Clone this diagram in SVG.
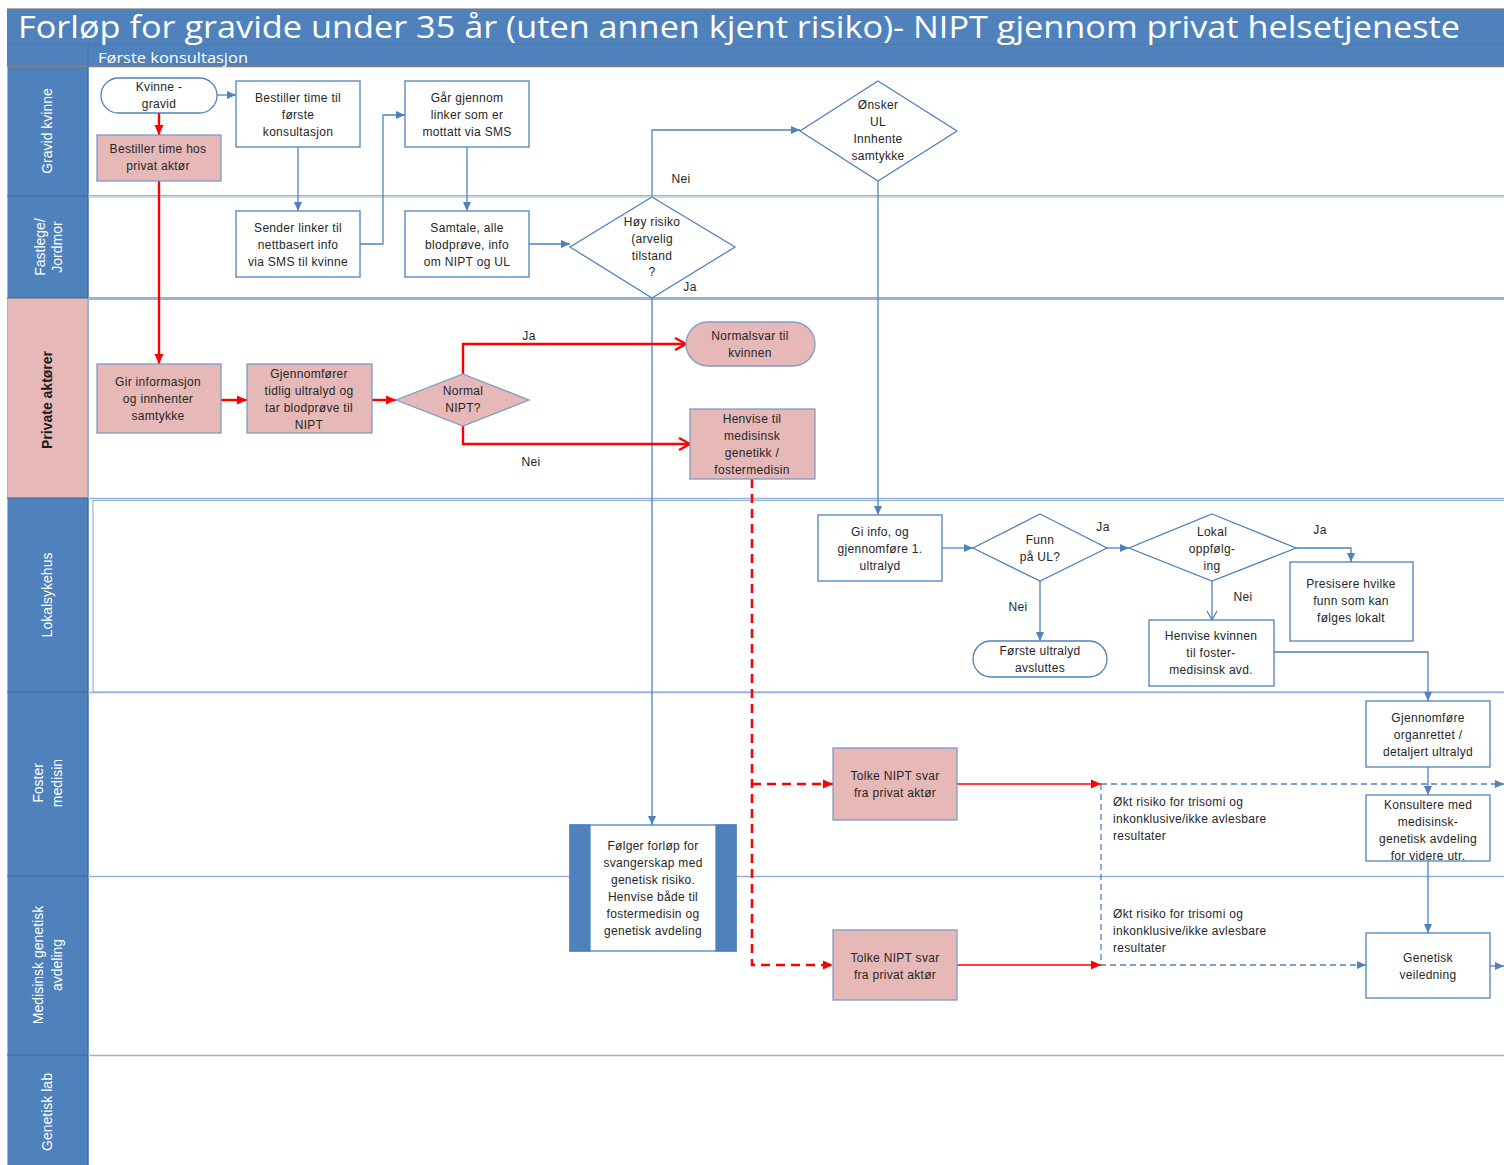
<svg xmlns="http://www.w3.org/2000/svg" width="1504" height="1165" viewBox="0 0 1504 1165">
<defs>
<style>
.t{font-family:"Liberation Sans",Arial,sans-serif;font-size:12px;fill:#262626;text-anchor:middle;letter-spacing:0.3px}
.tl{font-family:"Liberation Sans",Arial,sans-serif;font-size:12px;fill:#262626;letter-spacing:0.3px}
.lane{font-family:"Liberation Sans",Arial,sans-serif;font-size:14px;fill:#ffffff;text-anchor:middle}
.box{fill:#ffffff;stroke:#4f81bd;stroke-width:1.3}
.pink{fill:#e6b8b7;stroke:#7f9cc6;stroke-width:1.3}
.cb{fill:none;stroke:#4f81bd;stroke-width:1.3}
.cbd{fill:none;stroke:#4f81bd;stroke-width:1.3;stroke-dasharray:6 4}
.cr{fill:none;stroke:#ff0000;stroke-width:2.4}
.crt{fill:none;stroke:#ff0000;stroke-width:1.3}
.crd{fill:none;stroke:#ff0000;stroke-width:2.6;stroke-dasharray:9 6}
.ln{stroke:#95b3d7;fill:none}
</style>
<marker id="ab" markerWidth="10" markerHeight="10" refX="9" refY="5" orient="auto" markerUnits="userSpaceOnUse"><path d="M0,1 L9,5 L0,9 z" fill="#4f81bd"/></marker>
<marker id="abo" markerWidth="12" markerHeight="12" refX="10" refY="6" orient="auto" markerUnits="userSpaceOnUse"><path d="M1,1 L10,6 L1,11" fill="none" stroke="#4f81bd" stroke-width="1.3"/></marker>
<marker id="ar" markerWidth="12" markerHeight="12" refX="10" refY="6" orient="auto" markerUnits="userSpaceOnUse"><path d="M0,1.5 L10,6 L0,10.5 z" fill="#ff0000"/></marker>
<marker id="aro" markerWidth="14" markerHeight="14" refX="12" refY="7" orient="auto" markerUnits="userSpaceOnUse"><path d="M1,1 L12,7 L1,13" fill="none" stroke="#ff0000" stroke-width="2.4"/></marker>
</defs>
<rect x="0" y="0" width="1504" height="1165" fill="#ffffff"/>

<g id="frame">
<rect x="7" y="9" width="1497" height="57" fill="#4f81bd"/>
<line x1="7" y1="8.5" x2="1504" y2="8.5" stroke="#b0b0b0" stroke-width="1"/>
<line x1="7" y1="44.5" x2="1504" y2="44.5" stroke="#4a79b0" stroke-width="1"/>
<line x1="7" y1="66.5" x2="1504" y2="66.5" stroke="#808080" stroke-width="1.5"/>
<line x1="88" y1="45" x2="88" y2="66" stroke="#3f6ea8" stroke-width="1"/>
<text x="18" y="38" font-family="'Open Sans','Liberation Sans',sans-serif" font-size="31" fill="#ffffff" textLength="1442" lengthAdjust="spacingAndGlyphs">Forløp for gravide under 35 år (uten annen kjent risiko)- NIPT gjennom privat helsetjeneste</text>
<text x="98" y="62.5" font-family="'Open Sans','Liberation Sans',sans-serif" font-size="14" fill="#ffffff" textLength="150" lengthAdjust="spacingAndGlyphs">Første konsultasjon</text>
</g>

<g id="lanes">
<rect x="7" y="67" width="81" height="231" fill="#4f81bd"/>
<rect x="7" y="298" width="81" height="200" fill="#e6b8b7"/>
<rect x="7" y="498" width="81" height="667" fill="#4f81bd"/>
<line x1="7.5" y1="67" x2="7.5" y2="1165" stroke="#9fb6d4" stroke-width="1"/>
<line x1="88" y1="67" x2="88" y2="1165" stroke="#3f6ea8" stroke-width="1.5"/>
<line x1="88" y1="298" x2="88" y2="498" stroke="#95b3d7" stroke-width="2"/>
<g stroke="#3a6599" stroke-width="1.2">
<line x1="7" y1="196" x2="88" y2="196"/>
<line x1="7" y1="298" x2="88" y2="298"/>
<line x1="7" y1="498" x2="88" y2="498"/>
<line x1="7" y1="692" x2="88" y2="692"/>
<line x1="7" y1="876" x2="88" y2="876"/>
<line x1="7" y1="1055" x2="88" y2="1055"/>
</g>
<line class="ln" x1="88" y1="195.5" x2="1504" y2="195.5" stroke-width="1"/>
<line class="ln" x1="88" y1="197" x2="1504" y2="197" stroke="#c6d6ea" stroke-width="1.2"/>
<line class="ln" x1="88" y1="298.5" x2="1504" y2="298.5" stroke-width="3"/>
<line class="ln" x1="88" y1="498.5" x2="1504" y2="498.5" stroke-width="1.5"/>
<rect x="93" y="500.5" width="1420" height="191.5" fill="none" stroke="#95b3d7" stroke-width="1.2"/>
<line class="ln" x1="88" y1="692.5" x2="1504" y2="692.5" stroke-width="1.5"/>
<line class="ln" x1="88" y1="876.5" x2="1504" y2="876.5" stroke-width="1.5"/>
<line class="ln" x1="88" y1="1055.5" x2="1504" y2="1055.5" stroke-width="1.5"/>
<text class="lane" transform="translate(52,131) rotate(-90)">Gravid  kvinne</text>
<text class="lane" transform="translate(45,247) rotate(-90)">Fastlege/</text>
<text class="lane" transform="translate(62,247) rotate(-90)">Jordmor</text>
<text transform="translate(52,400) rotate(-90)" font-family="'Liberation Sans',Arial,sans-serif" font-size="14" font-weight="bold" fill="#1a1a1a" text-anchor="middle">Private aktører</text>
<text class="lane" transform="translate(52,595) rotate(-90)">Lokalsykehus</text>
<text class="lane" transform="translate(43,783) rotate(-90)">Foster</text>
<text class="lane" transform="translate(62,783) rotate(-90)">medisin</text>
<text class="lane" transform="translate(43,965) rotate(-90)">Medisinsk genetisk</text>
<text class="lane" transform="translate(62,965) rotate(-90)">avdeling</text>
<text class="lane" transform="translate(52,1112) rotate(-90)">Genetisk lab</text>
</g>

<g id="connectors">
<path class="cb" d="M217,95 H236" marker-end="url(#ab)"/>
<path class="cb" d="M298,147 V211" marker-end="url(#ab)"/>
<path class="cb" d="M360,244 H383 V115 H405" marker-end="url(#ab)"/>
<path class="cb" d="M467,147 V211" marker-end="url(#ab)"/>
<path class="cb" d="M529,244 H570" marker-end="url(#ab)"/>
<path class="cb" d="M652,196 V130 H800" marker-end="url(#ab)"/>
<path class="cb" d="M652,298 V825" marker-end="url(#ab)"/>
<path class="cb" d="M878,181 V515" marker-end="url(#ab)"/>
<path class="cb" d="M942,548 H973" marker-end="url(#ab)"/>
<path class="cb" d="M1107,548 H1129" marker-end="url(#ab)"/>
<path class="cb" d="M1040,581 V641" marker-end="url(#ab)"/>
<path class="cb" d="M1296,548 H1351 V562" marker-end="url(#ab)"/>
<path class="cb" d="M1212,581 V620" marker-end="url(#abo)"/>
<path class="cb" d="M1274,652 H1428 V701" marker-end="url(#ab)"/>
<path class="cb" d="M1428,767 V795" marker-end="url(#ab)"/>
<path class="cb" d="M1428,861 V933" marker-end="url(#ab)"/>
<path class="cb" d="M1490,966 H1504" marker-end="url(#ab)"/>
<path class="cbd" d="M1101,784 H1504" marker-end="url(#ab)"/>
<path class="cbd" d="M1101,784 V965 H1366" marker-end="url(#ab)"/>
<path class="cr" d="M159,113 V135" marker-end="url(#ar)"/>
<path class="cr" d="M159,181 V364" marker-end="url(#ar)"/>
<path class="cr" d="M221,400 H247" marker-end="url(#ar)"/>
<path class="cr" d="M372,400 H396" marker-end="url(#ar)"/>
<path class="cr" d="M463,374 V344 H686" marker-end="url(#aro)"/>
<path class="cr" d="M463,426 V444 H690" marker-end="url(#aro)"/>
<path class="crd" d="M752,479 V965 H833" marker-end="url(#ar)"/>
<path class="crd" d="M752,784 H833" marker-end="url(#ar)"/>
<path class="crt" d="M957,784 H1101" marker-end="url(#ar)"/>
<path class="crt" d="M957,965 H1101" marker-end="url(#ar)"/>
<g class="t">
<text x="681" y="183">Nei</text>
<text x="690" y="291">Ja</text>
<text x="529" y="340">Ja</text>
<text x="531" y="466">Nei</text>
<text x="1103" y="531">Ja</text>
<text x="1018" y="611">Nei</text>
<text x="1320" y="534">Ja</text>
<text x="1243" y="601">Nei</text>
</g>
<text class="tl" x="1113" y="806">Økt risiko for trisomi og</text>
<text class="tl" x="1113" y="823">inkonklusive/ikke avlesbare</text>
<text class="tl" x="1113" y="840">resultater</text>
<text class="tl" x="1113" y="918">Økt risiko for trisomi og</text>
<text class="tl" x="1113" y="935">inkonklusive/ikke avlesbare</text>
<text class="tl" x="1113" y="952">resultater</text>
</g>

<g id="n-kvinne"><rect class="box" x="101" y="78" width="116" height="35" rx="17.5"/><text class="t" x="159" y="91">Kvinne -</text><text class="t" x="159" y="108">gravid</text></g>
<g id="n-bestiller-privat"><rect class="pink" x="97" y="135" width="124" height="46"/><text class="t" x="158" y="153">Bestiller time hos</text><text class="t" x="158" y="170">privat aktør</text></g>
<g id="n-bestiller-forste"><rect class="box" x="236" y="81" width="124" height="66"/><text class="t" x="298" y="102">Bestiller time til</text><text class="t" x="298" y="119">første</text><text class="t" x="298" y="136">konsultasjon</text></g>
<g id="n-gar-gjennom"><rect class="box" x="405" y="81" width="124" height="66"/><text class="t" x="467" y="102">Går gjennom</text><text class="t" x="467" y="119">linker som er</text><text class="t" x="467" y="136">mottatt via SMS</text></g>
<g id="n-onsker-ul"><path class="box" d="M878,81 L957,131 L878,181 L800,131 z"/><text class="t" x="878" y="109">Ønsker</text><text class="t" x="878" y="126">UL</text><text class="t" x="878" y="143">Innhente</text><text class="t" x="878" y="160">samtykke</text></g>
<g id="n-sender"><rect class="box" x="236" y="211" width="124" height="66"/><text class="t" x="298" y="232">Sender linker til</text><text class="t" x="298" y="249">nettbasert info</text><text class="t" x="298" y="266">via SMS til kvinne</text></g>
<g id="n-samtale"><rect class="box" x="405" y="211" width="124" height="66"/><text class="t" x="467" y="232">Samtale, alle</text><text class="t" x="467" y="249">blodprøve, info</text><text class="t" x="467" y="266">om NIPT og UL</text></g>
<g id="n-hoy-risiko"><path class="box" d="M652,197 L735,247 L652,298 L570,247 z"/><text class="t" x="652" y="226">Høy risiko</text><text class="t" x="652" y="243">(arvelig</text><text class="t" x="652" y="260">tilstand</text><text class="t" x="652" y="276">?</text></g>
<g id="n-gir-info"><rect class="pink" x="97" y="364" width="124" height="69"/><text class="t" x="158" y="386">Gir informasjon</text><text class="t" x="158" y="403">og innhenter</text><text class="t" x="158" y="420">samtykke</text></g>
<g id="n-gjennomforer"><rect class="pink" x="247" y="364" width="125" height="69"/><text class="t" x="309" y="378">Gjennomfører</text><text class="t" x="309" y="395">tidlig ultralyd og</text><text class="t" x="309" y="412">tar blodprøve til</text><text class="t" x="309" y="429">NIPT</text></g>
<g id="n-normal-nipt"><path class="pink" d="M463,374 L529,400 L463,426 L396,400 z"/><text class="t" x="463" y="395">Normal</text><text class="t" x="463" y="412">NIPT?</text></g>
<g id="n-normalsvar"><rect class="pink" x="686" y="322" width="129" height="44" rx="22"/><text class="t" x="750" y="340">Normalsvar til</text><text class="t" x="750" y="357">kvinnen</text></g>
<g id="n-henvise-gen"><rect class="pink" x="690" y="409" width="125" height="70"/><text class="t" x="752" y="423">Henvise til</text><text class="t" x="752" y="440">medisinsk</text><text class="t" x="752" y="457">genetikk /</text><text class="t" x="752" y="474">fostermedisin</text></g>
<g id="n-gi-info-ul"><rect class="box" x="818" y="515" width="124" height="66"/><text class="t" x="880" y="536">Gi info, og</text><text class="t" x="880" y="553">gjennomføre 1.</text><text class="t" x="880" y="570">ultralyd</text></g>
<g id="n-funn"><path class="box" d="M1040,514 L1107,548 L1040,581 L973,548 z"/><text class="t" x="1040" y="544">Funn</text><text class="t" x="1040" y="561">på UL?</text></g>
<g id="n-lokal"><path class="box" d="M1212,514 L1296,548 L1212,581 L1129,548 z"/><text class="t" x="1212" y="536">Lokal</text><text class="t" x="1212" y="553">oppfølg-</text><text class="t" x="1212" y="570">ing</text></g>
<g id="n-presisere"><rect class="box" x="1290" y="562" width="123" height="79"/><text class="t" x="1351" y="588">Presisere hvilke</text><text class="t" x="1351" y="605">funn som kan</text><text class="t" x="1351" y="622">følges lokalt</text></g>
<g id="n-forste-avsluttes"><rect class="box" x="973" y="641" width="134" height="36" rx="18"/><text class="t" x="1040" y="655">Første ultralyd</text><text class="t" x="1040" y="672">avsluttes</text></g>
<g id="n-henvise-kvinnen"><rect class="box" x="1149" y="620" width="125" height="66"/><text class="t" x="1211" y="640">Henvise kvinnen</text><text class="t" x="1211" y="657">til foster-</text><text class="t" x="1211" y="674">medisinsk avd.</text></g>
<g id="n-organrettet"><rect class="box" x="1366" y="701" width="124" height="66"/><text class="t" x="1428" y="722">Gjennomføre</text><text class="t" x="1428" y="739">organrettet /</text><text class="t" x="1428" y="756">detaljert ultralyd</text></g>
<g id="n-konsultere"><rect class="box" x="1366" y="795" width="124" height="66"/><text class="t" x="1428" y="809">Konsultere med</text><text class="t" x="1428" y="826">medisinsk-</text><text class="t" x="1428" y="843">genetisk avdeling</text><text class="t" x="1428" y="860">for videre utr.</text></g>
<g id="n-folger"><rect class="box" x="570" y="825" width="166" height="126"/><rect x="570" y="825" width="20" height="126" fill="#4f81bd" stroke="#4f81bd" stroke-width="1.3"/><rect x="716" y="825" width="20" height="126" fill="#4f81bd" stroke="#4f81bd" stroke-width="1.3"/><text class="t" x="653" y="850">Følger forløp for</text><text class="t" x="653" y="867">svangerskap med</text><text class="t" x="653" y="884">genetisk risiko.</text><text class="t" x="653" y="901">Henvise både til</text><text class="t" x="653" y="918">fostermedisin og</text><text class="t" x="653" y="935">genetisk avdeling</text></g>
<g id="n-tolke-1"><rect class="pink" x="833" y="748" width="124" height="72"/><text class="t" x="895" y="780">Tolke NIPT svar</text><text class="t" x="895" y="797">fra privat aktør</text></g>
<g id="n-tolke-2"><rect class="pink" x="833" y="930" width="124" height="70"/><text class="t" x="895" y="962">Tolke NIPT svar</text><text class="t" x="895" y="979">fra privat aktør</text></g>
<g id="n-genetisk-veiledning"><rect class="box" x="1366" y="933" width="124" height="65"/><text class="t" x="1428" y="962">Genetisk</text><text class="t" x="1428" y="979">veiledning</text></g>
</svg>
